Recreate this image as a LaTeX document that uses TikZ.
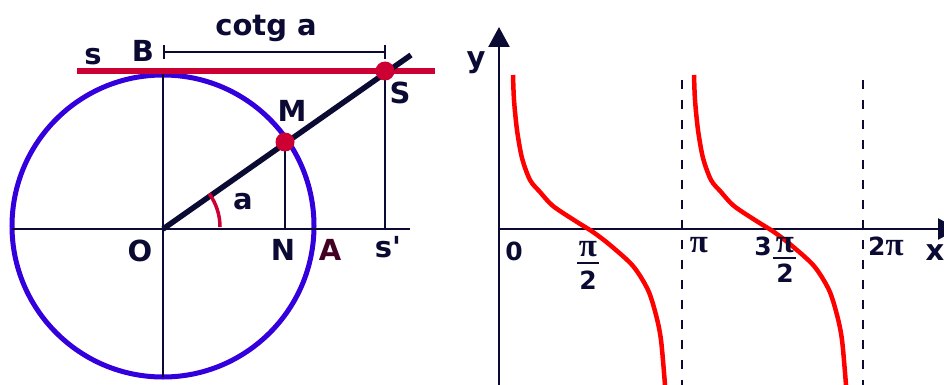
\documentclass[tikz,border=0pt]{standalone}
\usepackage{fontspec}
\setmainfont{DejaVu Sans}
\newfontfamily\pifont{Liberation Serif}
\usetikzlibrary{arrows.meta}
\definecolor{ink}{HTML}{0A0A33}
\definecolor{circ}{HTML}{3300DD}
\definecolor{crim}{HTML}{CC0033}
\definecolor{maroonA}{HTML}{440022}
\definecolor{curve}{HTML}{FF0000}
\newcommand{\PI}{{\pifont\fontsize{33}{35}\selectfont\bfseries π}}
\begin{document}
\begin{tikzpicture}[x=1pt,y=-1pt,
  lab/.style={font=\fontsize{29}{31}\selectfont\bfseries, text=ink, inner sep=0pt},
  plab/.style={font=\fontsize{25}{27}\selectfont\bfseries, text=ink, inner sep=0pt},
  thinline/.style={draw=ink, line width=2.5pt},
  reddot/.style={circle, fill=crim, minimum size=19pt, inner sep=0pt},
  dashline/.style={draw=ink, line width=2.5pt, dash pattern=on 9pt off 11pt},
  redcurve/.style={draw=curve, line width=4.5pt},
]
\useasboundingbox (0,0) rectangle (944,385);
% ---------- left: unit circle ----------
\coordinate (O) at (163,229);
\coordinate (C) at (163,226);
\coordinate (B) at (163,71);
\coordinate (Bot) at (163,377);
\coordinate (Lft) at (12,229);
\coordinate (Rgt) at (410,229);
\coordinate (N) at (285,229);
\coordinate (Sp) at (385,229);
\coordinate (E) at (411,55);
\coordinate (s1) at (77,71);
\coordinate (s2) at (435,71);
\coordinate (dL) at (163,52);
\coordinate (dR) at (386,52);
\coordinate (Mc) at (285,142);
\coordinate (Sc) at (385,71);

\draw[circ, line width=5pt] (C) circle[radius=151pt];
\draw[thinline] (Lft) -- (Rgt);
\draw[thinline] (B) -- (Bot);
\draw[thinline] (Mc) -- (N);
\draw[thinline] (Sc) -- (Sp);
\draw[crim, line width=5.5pt] (s1) -- (s2);
\draw[ink, line width=2pt, {Bar[width=14pt]}-{Bar[width=14pt]}] (dL) -- (dR);
\draw[ink, line width=5.5pt] (O) -- (E);
\draw[crim, line width=3.5pt] (O) ++(57,-2) arc[start angle=0, end angle=-36, radius=57];
\node[reddot] (M) at (Mc) {};
\node[reddot] (S) at (Sc) {};

\node[lab] (cot) at (266,28) {cotg a};
\node[lab] (sl) at (93,57) {s};
\node[lab] (Bl) at (143,51) {B};
\node[lab] (Ml) at (292,111) {M};
\node[lab] (Sl) at (400,93) {S};
\node[lab] (al) at (243,202) {a};
\node[lab] (Ol) at (140,251) {O};
\node[lab] (Nl) at (283,250) {N};
\node[lab, text=maroonA] (Al) at (330,250) {A};
\node[lab] (spl) at (388,247) {s\textquotesingle};

% ---------- right: graph of cotangent ----------
\coordinate (yb) at (499,385);
\coordinate (yt) at (499,27);
\coordinate (xl) at (499,229);
\coordinate (xr) at (958,229);
\draw[ink, line width=2.5pt, -{Triangle[width=21pt,length=20pt]}] (yb) -- (yt);
\draw[ink, line width=2.5pt, -{Triangle[width=21pt,length=20pt]}] (xl) -- (xr);
\coordinate (d1t) at (682,80);
\coordinate (d1b) at (682,385);
\coordinate (d2t) at (863,80);
\coordinate (d2b) at (863,385);
\draw[dashline] (d1t) -- (d1b);
\draw[dashline] (d2t) -- (d2b);

\draw[redcurve] plot[smooth, tension=0.5] coordinates {(513,75) (514,100) (517,130) (522,158) (530,180) (540,192) (553,206) (577,222) (593,232) (610,245) (633,266) (648,290) (656,315) (661,340) (665,385)};
\begin{scope}[xshift=181pt]
\draw[redcurve] plot[smooth, tension=0.5] coordinates {(513,75) (514,100) (517,130) (522,158) (530,180) (540,192) (553,206) (577,222) (593,232) (610,245) (633,266) (648,290) (656,315) (661,340) (665,385)};
\end{scope}

\node[lab] (yl) at (476,63) {y};
\node[lab] (xlab) at (935,253) {x};
\node[plab] (zero) at (514,251) {0};
\node[plab] (p1) at (588,249) {\PI};
\coordinate (b1l) at (577,263);
\coordinate (b1r) at (599,263);
\draw[ink, line width=2.5pt] (b1l) -- (b1r);
\node[plab] (two1) at (588,280) {2};
\node[plab] (pi) at (699,245) {\PI};
\node[plab] (three) at (763,246) {3};
\node[plab] (p3) at (785,245) {\PI};
\coordinate (b3l) at (773,258);
\coordinate (b3r) at (796,258);
\draw[ink, line width=2.5pt] (b3l) -- (b3r);
\node[plab] (two3) at (785,273) {2};
\node[plab, anchor=west] (twopi) at (868,246) {2\PI};
\end{tikzpicture}
\end{document}
